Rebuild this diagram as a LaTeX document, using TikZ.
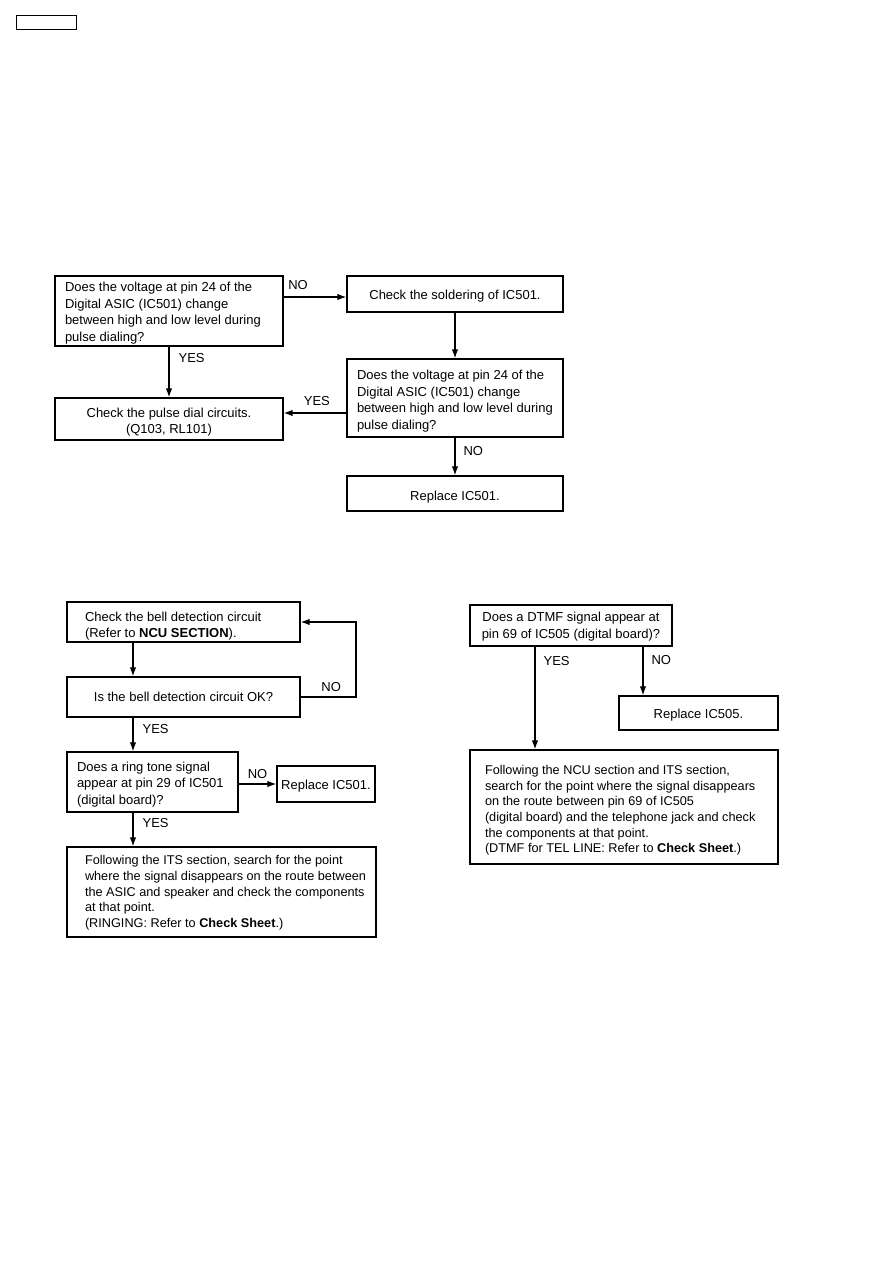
\documentclass[tikz,border=0pt]{standalone}
\usepackage{fontspec}
\setmainfont{Liberation Sans}
\usetikzlibrary{arrows.meta}
\newcommand{\LB}[3][0pt]{\raisebox{-#1}[\height][\depth]{\makebox[#2][l]{\begin{tabular}{@{}l@{}}#3\end{tabular}}}}
\newcommand{\CB}[2][0pt]{\raisebox{-#1}[\height][\depth]{\begin{tabular}{@{}c@{}}#2\end{tabular}}}
\begin{document}
\begin{tikzpicture}[x=1pt,y=-1pt,
 box/.style={draw, line width=1.4pt, inner sep=0pt, font=\fontsize{13}{16.5}\selectfont},
 smallbox/.style={box, font=\fontsize{12.7}{15.6}\selectfont},
 arr/.style={line width=1.2pt, -{Latex[length=9pt,width=6.5pt]}},
 lbl/.style={inner sep=0pt, font=\fontsize{13}{16.5}\selectfont}]
\useasboundingbox (0,0) rectangle (893,1263);
\node[draw, line width=1pt, minimum width=60pt, minimum height=14pt, inner sep=0pt] (hdr) at (46,23) {};

% top flow
\node[box, minimum width=228pt, minimum height=70pt] (A) at (169,311) {\LB[2pt]{208pt}{Does the voltage at pin 24 of the\\Digital ASIC (IC501) change\\between high and low level during\\pulse dialing?}};
\node[box, minimum width=216pt, minimum height=36pt] (B) at (455,294) {\CB[2pt]{Check the soldering of IC501.}};
\node[box, minimum width=216pt, minimum height=78pt] (D) at (455,398) {\LB[3pt]{196pt}{Does the voltage at pin 24 of the\\Digital ASIC (IC501) change\\between high and low level during\\pulse dialing?}};
\node[box, minimum width=228pt, minimum height=42pt] (C) at (169,419) {\CB[3pt]{Check the pulse dial circuits.\\(Q103, RL101)}};
\node[box, minimum width=216pt, minimum height=35pt] (E) at (455,493.5) {\CB[4pt]{Replace IC501.}};

\draw[arr] ([yshift=-21.7pt]A.north east) -- node[lbl, pos=0, anchor=south west, xshift=4pt, yshift=6.5pt]{NO} ([yshift=-21.7pt]B.north west);
\draw[arr] (A.south) -- node[lbl, pos=0.23, anchor=west, xshift=9pt]{YES} (C.north);
\draw[arr] (B.south) -- (D.north);
\coordinate (d1) at ([yshift=-54.7pt]D.north west);
\draw[arr] (d1) -- node[lbl, pos=0.47, anchor=south, yshift=6.5pt]{YES} (d1 -| C.east);
\draw[arr] (D.south) -- node[lbl, pos=0.36, anchor=west, xshift=8pt]{NO} (E.north);

% bottom left flow
\node[box, minimum width=233pt, minimum height=40pt] (F) at (183.5,622) {\LB[4pt]{197pt}{Check the bell detection circuit\\(Refer to \textbf{NCU SECTION}).}};
\node[box, minimum width=233pt, minimum height=40pt] (G) at (183.5,697) {\CB[1.5pt]{Is the bell detection circuit OK?}};
\node[box, minimum width=171pt, minimum height=60pt] (H) at (152.5,782) {\LB[2.5pt]{151pt}{Does a ring tone signal\\appear at pin 29 of IC501\\(digital board)?}};
\node[box, minimum width=98pt, minimum height=36pt] (I) at (326,784) {\CB[2.5pt]{Replace IC501.}};
\node[smallbox, minimum width=309pt, minimum height=90pt] (J) at (221.5,892) {\LB[1pt]{273pt}{Following the ITS section, search for the point\\where the signal disappears on the route between\\the ASIC and speaker and check the components\\at that point.\\(RINGING: Refer to \textbf{Check Sheet}.)}};

\draw[arr] ([xshift=66.7pt]F.south west) -- ([xshift=66.7pt]G.north west);
\draw[arr] (G.east) -- node[lbl, pos=0.55, anchor=south, yshift=5pt]{NO} ++(55.3,0) |- (F.east);
\draw[arr] ([xshift=66.7pt]G.south west) -- node[lbl, pos=0.34, anchor=west, xshift=9pt]{YES} ([xshift=66.7pt]H.north west);
\draw[arr] (H.east |- I.west) -- node[lbl, pos=0.5, anchor=south, yshift=5pt]{NO} (I.west);
\draw[arr] ([xshift=66.7pt]H.south west) -- node[lbl, pos=0.31, anchor=west, xshift=9pt]{YES} ([xshift=66.7pt]J.north west);

% bottom right flow
\node[box, minimum width=202pt, minimum height=41pt] (K1) at (571,625.5) {\CB[1pt]{Does a DTMF signal appear at\\pin 69 of IC505 (digital board)?}};
\node[box, minimum width=159pt, minimum height=34pt] (K2) at (698.5,713) {\CB[2pt]{Replace IC505.}};
\node[smallbox, minimum width=308pt, minimum height=114pt] (K3) at (624,807) {\LB[3.5pt]{278pt}{Following the NCU section and ITS section,\\search for the point where the signal disappears\\on the route between pin 69 of IC505\\(digital board) and the telephone jack and check\\the components at that point.\\(DTMF for TEL LINE: Refer to \textbf{Check Sheet}.)}};

\coordinate (k1) at ([xshift=65.7pt]K1.south west);
\draw[arr] (k1) -- node[lbl, pos=0.135, anchor=west, xshift=8pt]{YES} (k1 |- K3.north);
\coordinate (k2) at ([xshift=173.7pt]K1.south west);
\draw[arr] (k2) -- node[lbl, pos=0.28, anchor=west, xshift=8pt]{NO} (k2 |- K2.north);
\end{tikzpicture}
\end{document}
